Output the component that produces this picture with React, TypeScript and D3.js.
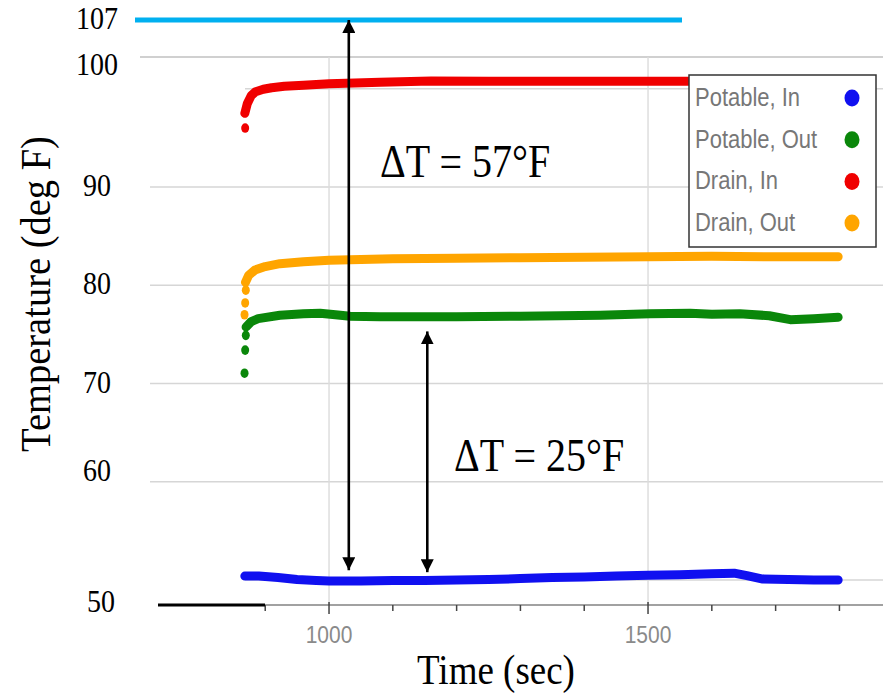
import {useEffect, useRef} from "react";
import * as d3 from "d3";

// time (sec), temperature (deg F)
const potableIn = [[868, 50.4], [890, 50.4], [920, 50.25], [950, 50.05], [980, 49.95], [1000, 49.9], [1050, 49.9], [1100, 49.95], [1150, 49.95], [1200, 50.0], [1250, 50.05], [1300, 50.15], [1350, 50.25], [1400, 50.3], [1450, 50.4], [1500, 50.5], [1550, 50.55], [1600, 50.65], [1635, 50.7], [1655, 50.45], [1680, 50.1], [1720, 50.05], [1760, 50.0], [1798, 50.0]];
const potableOutStart = [[866, 71.05], [867, 73.4], [868, 74.9]];
const potableOut = [[870, 75.75], [878, 76.3], [889, 76.6], [923, 76.95], [960, 77.1], [986, 77.15], [1010, 77.0], [1033, 76.85], [1080, 76.8], [1143, 76.8], [1200, 76.8], [1300, 76.85], [1425, 76.95], [1503, 77.1], [1566, 77.15], [1600, 77.05], [1644, 77.1], [1690, 76.9], [1723, 76.5], [1760, 76.6], [1798, 76.75]];
const drainInStart = [[867, 96.0]];
const drainIn = [[868, 97.5], [872, 98.5], [878, 99.3], [885, 99.7], [897, 99.95], [910, 100.1], [930, 100.25], [960, 100.35], [1000, 100.5], [1080, 100.65], [1160, 100.8], [1250, 100.75], [1350, 100.75], [1450, 100.75], [1550, 100.75], [1650, 100.75], [1750, 100.75], [1798, 100.75]];
const drainOutStart = [[866, 77.0], [867, 78.2], [868, 79.5]];
const drainOut = [[869, 80.3], [874, 81.0], [884, 81.55], [900, 81.9], [923, 82.2], [960, 82.4], [1000, 82.55], [1100, 82.7], [1200, 82.75], [1300, 82.8], [1400, 82.85], [1500, 82.9], [1600, 82.95], [1700, 82.9], [1798, 82.9]];

const seriesNames = ["Potable, In", "Potable, Out", "Drain, In", "Drain, Out"];
const seriesColors = ["#1010f0", "#0a870a", "#f00000", "#ffa500"];

const xTicks = [900, 1000, 1100, 1200, 1300, 1400, 1500, 1600, 1700, 1800];
const xTickLabels = [1000, 1500];
const yGrid = [50, 60, 70, 80, 90, 100];
// hand-placed labels on the left (label text, position in deg F)
const yLabels = [["107", 107], ["100", 102.3], ["90", 90], ["80", 80], ["70", 70], ["60", 61], ["50", 47.7]];

const maxLine = 107;
const arrows = [[1031, 107, 51.0], [1154, 75.3, 50.8]];
const notes = [["ΔT = 57°F", 1080, 91.0], ["ΔT = 25°F", 1196, 61.1]];

const serif = "'Liberation Serif', 'Times New Roman', serif";
const sans = "'Liberation Sans', Arial, sans-serif";
const stretch = 1.15;

function App() {
    const ref = useRef(null);

    useEffect(() => {
        const width = 883, height = 697;
        const plot = {left: 245, right: 883, top: 57, bottom: 605};

        const svg = d3.select(ref.current)
            .attr("width", width)
            .attr("height", height);
        svg.selectAll("*").remove();

        const x = d3.scaleLinear().domain([868.3, 1868.3]).range([plot.left, plot.right]);
        const y = d3.scaleLinear().domain([47.46, 103.23]).range([plot.bottom, plot.top]);

        const addText = (g, str, tx, ty, size, family, anchor, fill = "#000") =>
            g.append("text")
                .attr("transform", `translate(${tx},${ty}) scale(1,${stretch})`)
                .attr("text-anchor", anchor)
                .style("font-family", family)
                .style("font-size", size + "px")
                .style("fill", fill)
                .text(str);

        // grid
        svg.append("g").selectAll("line")
            .data(yGrid)
            .enter()
            .append("line")
            .attr("x1", d => d >= 60 && d < 100 ? 150 : plot.left)
            .attr("x2", plot.right)
            .attr("y1", d => y(d))
            .attr("y2", d => y(d))
            .attr("stroke", "#d6d6d6")
            .attr("stroke-width", 1.6);

        svg.append("line")
            .attr("x1", 140).attr("x2", plot.right)
            .attr("y1", plot.top).attr("y2", plot.top)
            .attr("stroke", "#d0d0d0").attr("stroke-width", 2);

        svg.append("g").selectAll("line")
            .data(xTickLabels)
            .enter()
            .append("line")
            .attr("x1", d => x(d)).attr("x2", d => x(d))
            .attr("y1", plot.top).attr("y2", plot.bottom)
            .attr("stroke", "#dcdcdc")
            .attr("stroke-width", 1.4);

        // x axis
        svg.append("line")
            .attr("x1", plot.left).attr("x2", plot.right)
            .attr("y1", plot.bottom).attr("y2", plot.bottom)
            .attr("stroke", "#444").attr("stroke-width", 1.2);
        svg.append("g").selectAll("line")
            .data(xTicks)
            .enter()
            .append("line")
            .attr("x1", d => x(d)).attr("x2", d => x(d))
            .attr("y1", d => xTickLabels.includes(d) ? plot.bottom - 3 : plot.bottom)
            .attr("y2", d => xTickLabels.includes(d) ? plot.bottom + 9 : plot.bottom + 6)
            .attr("stroke", "#444").attr("stroke-width", 1.5);
        xTickLabels.forEach(d => addText(svg, d, x(d), 643, 21, sans, "middle", "#8a8a8a"));

        svg.append("line")
            .attr("x1", 158).attr("x2", 265)
            .attr("y1", plot.bottom).attr("y2", plot.bottom)
            .attr("stroke", "#000").attr("stroke-width", 3);

        // series
        const line = d3.line().x(d => x(d[0])).y(d => y(d[1]));
        const mains = [potableIn, potableOut, drainIn, drainOut];
        const starts = [[], potableOutStart, drainInStart, drainOutStart];
        mains.forEach((s, i) => {
            svg.append("path")
                .attr("d", line(s))
                .attr("fill", "none")
                .attr("stroke", seriesColors[i])
                .attr("stroke-width", 9)
                .attr("stroke-linejoin", "round")
                .attr("stroke-linecap", "round");
            svg.append("g").selectAll("ellipse")
                .data(starts[i])
                .enter()
                .append("ellipse")
                .attr("cx", d => x(d[0]) + 1)
                .attr("cy", d => y(d[1]))
                .attr("rx", 4).attr("ry", 4.8)
                .attr("fill", seriesColors[i]);
        });

        // 107 line
        svg.append("line")
            .attr("x1", 135).attr("x2", 682)
            .attr("y1", y(maxLine)).attr("y2", y(maxLine))
            .attr("stroke", "#00b0f0").attr("stroke-width", 5);

        // legend
        const lg = svg.append("g").attr("transform", "translate(689,75)");
        lg.append("rect")
            .attr("width", 187).attr("height", 172)
            .attr("fill", "#fff")
            .attr("stroke", "#333").attr("stroke-width", 1.5);
        seriesNames.forEach((n, i) => {
            addText(lg, n, 6, 31 + i * 41.7, 22, sans, "start", "#777");
            lg.append("ellipse")
                .attr("cx", 163).attr("cy", 23 + i * 41.7)
                .attr("rx", 7.5).attr("ry", 8.5)
                .attr("fill", seriesColors[i]);
        });

        // arrows
        const defs = svg.append("defs");
        defs.append("marker")
            .attr("id", "head")
            .attr("viewBox", "0 0 10 10")
            .attr("refX", 10).attr("refY", 5)
            .attr("markerWidth", 5).attr("markerHeight", 5)
            .attr("orient", "auto-start-reverse")
            .append("path")
            .attr("d", "M0,0L10,5L0,10Z")
            .attr("fill", "#000");
        svg.append("g").selectAll("line")
            .data(arrows)
            .enter()
            .append("line")
            .attr("x1", d => x(d[0])).attr("x2", d => x(d[0]))
            .attr("y1", d => y(d[1])).attr("y2", d => y(d[2]))
            .attr("stroke", "#000").attr("stroke-width", 2.6)
            .attr("marker-start", "url(#head)")
            .attr("marker-end", "url(#head)");

        notes.forEach(d => addText(svg, d[0], x(d[1]), y(d[2]), 40, serif, "start"));

        // y labels
        yLabels.forEach(d => {
            const v = d[1];
            const tx = v >= 100 ? 118 : v < 50 ? 115 : 111;
            addText(svg, d[0], tx, y(v) + 9, 28, serif, "end");
        });

        // axis titles
        addText(svg, "Time (sec)", 496, 684, 37, serif, "middle");
        svg.append("text")
            .attr("transform", `translate(50,294) scale(${stretch},1.07) rotate(-90)`)
            .attr("text-anchor", "middle")
            .style("font-family", serif)
            .style("font-size", "36px")
            .text("Temperature (deg F)");

    }, []);

    return <svg ref={ref} style={{position: "absolute", left: 0, top: 0}}></svg>
}

export default App;
